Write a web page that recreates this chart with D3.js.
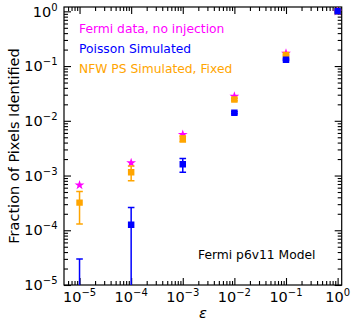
<!DOCTYPE html>
<html><head><meta charset="utf-8">
<script src="https://cdn.jsdelivr.net/npm/d3@7"></script>
<style>
body{margin:0;background:#fff;}
svg{display:block;font-family:"DejaVu Sans",sans-serif;}
</style></head>
<body><div id="chart"></div>
<script>
const eps = [1e-5, 1e-4, 1e-3, 1e-2, 1e-1, 1];
const fermi = [6.7e-4, 1.7e-3, 5.6e-3, 2.8e-2, 0.17, 1.0];
const poisson = [0, 1.26e-4, 1.6e-3, 0.014, 0.13, 1.0];
const poissonErr = [3e-5, 1.35e-4, 4.5e-4, 6e-4, 4e-3, 0];
const nfw = [3.2e-4, 1.15e-3, 4.7e-3, 2.45e-2, 0.16, 1.0];
const nfwErr = [1.9e-4, 3.5e-4, 6e-4, 1.2e-3, 5e-3, 0];
const majorTicks = [1e-5, 1e-4, 1e-3, 1e-2, 1e-1, 1];
const tickExps = ["−5", "−4", "−3", "−2", "−1", "0"];
const legendLabels = ["Fermi data, no injection", "Poisson Simulated", "NFW PS Simulated, Fixed"];
const colors = {fermi: "#ff00ff", poisson: "#0000ff", nfw: "#ffa500"};

const W = 357, H = 329;
const L = 64, R = 341.7, T = 7, B = 285;
const svg = d3.select("#chart").append("svg").attr("width", W).attr("height", H);

const x = d3.scaleLog().domain([5e-6, 1.2]).range([L, R]);
const y = d3.scaleLog().domain([1e-5, 1.2]).range([B, T]);

function minors(dom) {
  const out = [];
  for (let e = -6; e <= 0; e++) for (let m = 2; m <= 9; m++) {
    const v = m * Math.pow(10, e);
    if (v >= dom[0] && v <= dom[1]) out.push(v);
  }
  return out;
}
const xMin = minors(x.domain()), yMin = minors(y.domain());

svg.append("defs").append("clipPath").attr("id", "clip")
  .append("rect").attr("x", L).attr("y", T).attr("width", R - L).attr("height", B - T);

function styleAxis(g) {
  g.select(".domain").remove();
  g.selectAll(".tick line").attr("stroke", "#000").attr("stroke-width", 1.1);
}
// bottom
svg.append("g").attr("transform", `translate(0,${B})`)
  .call(d3.axisBottom(x).tickValues(majorTicks).tickSize(-7).tickFormat(() => "")).call(styleAxis);
svg.append("g").attr("transform", `translate(0,${B})`)
  .call(d3.axisBottom(x).tickValues(xMin).tickSize(-4).tickFormat(() => "")).call(styleAxis);
// top
svg.append("g").attr("transform", `translate(0,${T})`)
  .call(d3.axisTop(x).tickValues(majorTicks).tickSize(-7).tickFormat(() => "")).call(styleAxis);
svg.append("g").attr("transform", `translate(0,${T})`)
  .call(d3.axisTop(x).tickValues(xMin).tickSize(-4).tickFormat(() => "")).call(styleAxis);
// left
svg.append("g").attr("transform", `translate(${L},0)`)
  .call(d3.axisLeft(y).tickValues(majorTicks).tickSize(-7).tickFormat(() => "")).call(styleAxis);
svg.append("g").attr("transform", `translate(${L},0)`)
  .call(d3.axisLeft(y).tickValues(yMin).tickSize(-4).tickFormat(() => "")).call(styleAxis);
// right
svg.append("g").attr("transform", `translate(${R},0)`)
  .call(d3.axisRight(y).tickValues(majorTicks).tickSize(-7).tickFormat(() => "")).call(styleAxis);
svg.append("g").attr("transform", `translate(${R},0)`)
  .call(d3.axisRight(y).tickValues(yMin).tickSize(-4).tickFormat(() => "")).call(styleAxis);

// frame
svg.append("rect").attr("x", L).attr("y", T).attr("width", R - L).attr("height", B - T)
  .attr("fill", "none").attr("stroke", "#000").attr("stroke-width", 1.2);

// tick labels
function powLabel(sel, exp) {
  sel.append("tspan").text("10");
  sel.append("tspan").attr("font-size", "10px").attr("dy", "-6").text(exp);
}
majorTicks.forEach((v, i) => {
  const tx = svg.append("text").attr("x", x(v)).attr("y", 301.5)
    .attr("text-anchor", "middle").attr("font-size", "14.5px").attr("fill", "#000");
  powLabel(tx, tickExps[i]);
  const ty = svg.append("text").attr("x", 57.5).attr("y", y(v) + 5.2)
    .attr("text-anchor", "end").attr("font-size", "14.5px").attr("fill", "#000");
  powLabel(ty, tickExps[i]);
});

// axis labels
svg.append("text").attr("transform", `translate(19,${(T + B) / 2}) rotate(-90)`)
  .attr("text-anchor", "middle").attr("font-size", "14.5px").text("Fraction of Pixels Identified");
svg.append("text").attr("x", (L + R) / 2).attr("y", 318).attr("text-anchor", "middle")
  .attr("font-size", "14.5px").attr("font-style", "italic").text("ε");

const plot = svg.append("g").attr("clip-path", "url(#clip)");
const star = d3.symbol().type(d3.symbolStar).size(30);
const square = d3.symbol().type(d3.symbolSquare).size(42);

// Fermi stars
plot.selectAll(".fermi").data(eps.map((e, i) => [e, fermi[i]])).join("path")
  .attr("d", star).attr("transform", d => `translate(${x(d[0])},${y(d[1])})`)
  .attr("fill", colors.fermi);

function errorSeries(vals, errs, col) {
  const data = eps.map((e, i) => ({e, v: vals[i], err: errs[i]}));
  const g = plot.append("g");
  data.forEach(d => {
    if (d.err <= 0) return;
    const hi = d.v + d.err, lo = d.v - d.err;
    const yHi = y(hi);
    const yLo = lo > 0 ? y(lo) : B + 5;
    const cx = x(d.e);
    g.append("line").attr("x1", cx).attr("x2", cx).attr("y1", yHi).attr("y2", yLo)
      .attr("stroke", col).attr("stroke-width", 1.5);
    g.append("line").attr("x1", cx - 3.3).attr("x2", cx + 3.3).attr("y1", yHi).attr("y2", yHi)
      .attr("stroke", col).attr("stroke-width", 1.5);
    if (lo > 0) g.append("line").attr("x1", cx - 3.3).attr("x2", cx + 3.3).attr("y1", yLo).attr("y2", yLo)
      .attr("stroke", col).attr("stroke-width", 1.5);
  });
  g.selectAll("path").data(data.filter(d => d.v > 0)).join("path")
    .attr("d", square).attr("transform", d => `translate(${x(d.e)},${y(d.v)})`)
    .attr("fill", col);
}
errorSeries(nfw, nfwErr, colors.nfw);
errorSeries(poisson, poissonErr, colors.poisson);

// legend texts
const legCols = [colors.fermi, colors.poisson, colors.nfw];
legendLabels.forEach((t, i) => {
  svg.append("text").attr("x", 79).attr("y", 33.3 + i * 20).attr("font-size", "12.3px")
    .attr("fill", legCols[i]).text(t);
});
svg.append("text").attr("x", 198).attr("y", 259).attr("font-size", "12.3px")
  .attr("fill", "#000").text("Fermi p6v11 Model");
</script>
</body></html>
